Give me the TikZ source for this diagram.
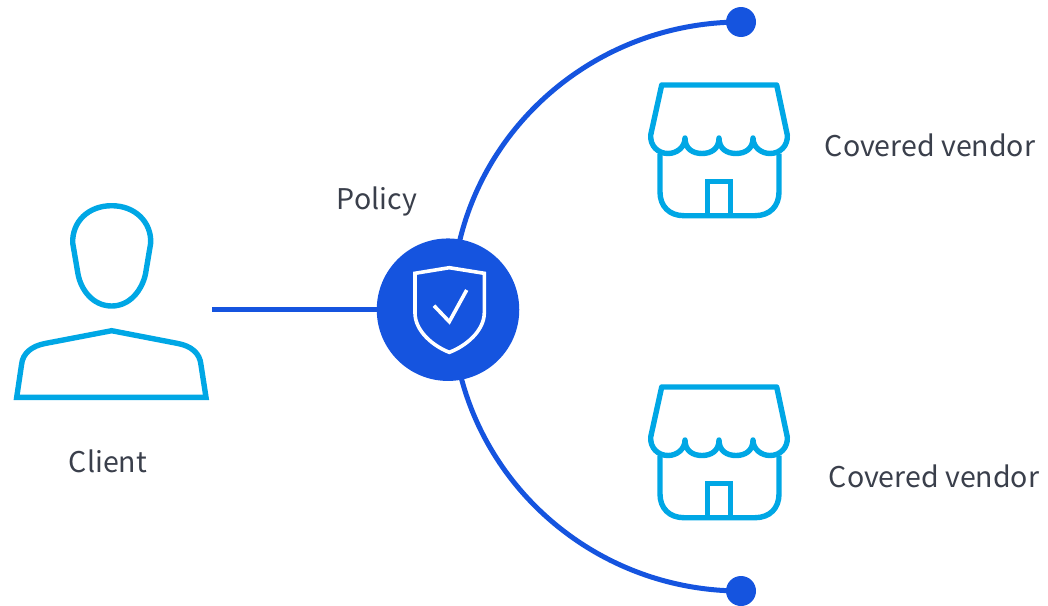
\documentclass[tikz,border=0pt]{standalone}
\usepackage{fontspec}
\setmainfont{Noto Sans CJK SC}
\usetikzlibrary{backgrounds}
\definecolor{hubblue}{HTML}{1554DF}
\definecolor{iconblue}{HTML}{00A7E5}
\definecolor{labelgrey}{HTML}{3A3F4B}
\tikzset{
  x=1pt,y=-1pt,
  iconline/.style={draw=iconblue,line width=5.4pt,line join=round},
  shieldline/.style={draw=white,line width=3.6pt,line join=miter},
  hubline/.style={draw=hubblue,line width=5pt},
  hub/.style={circle,fill=hubblue,inner sep=0pt,minimum size=142.5pt},
  enddot/.style={circle,fill=hubblue,inner sep=0pt,minimum size=30pt},
  lbl/.style={text=labelgrey,font=\fontsize{28.5}{34}\selectfont,inner sep=0pt},
  pics/shop/.style={code={
    \draw[iconline] (661.7,85) -- (776.7,85) -- (787.3,135)
      .. controls (788,146) and (780,153.5) .. (770,153.5)
      .. controls (761,153.5) and (753,147) .. (753,138)
      .. controls (753,149) and (745,153.5) .. (736,153.5)
      .. controls (727,153.5) and (719,149) .. (719,138)
      .. controls (719,149) and (711,153.5) .. (702,153.5)
      .. controls (693,153.5) and (685,149) .. (685,138)
      .. controls (685,147) and (677,153.5) .. (668,153.5)
      .. controls (658,153.5) and (650,146) .. (650.7,135) -- cycle;
    \draw[iconline] (660,153.5) -- (660,192)
      .. controls (660,206) and (669,215.7) .. (684,215.7)
      -- (755,215.7)
      .. controls (770,215.7) and (779,206) .. (779,192) -- (779,153.5);
    \draw[iconline,line join=miter] (707.3,215.7) -- (707.3,181.7) -- (730.7,181.7) -- (730.7,215.7);
  }}
}
\begin{document}
\begin{tikzpicture}
\useasboundingbox (0,0) rectangle (1048,605);
% hub and end points
\node[hub] (policy) at (448,309.7) {};
\node[enddot] (top) at (741,22) {};
\node[enddot] (bottom) at (741,591) {};
\coordinate (clientend) at (212,309.7);
\coordinate (arctop) at (452,306);
\coordinate (arcbot) at (452,306);
\begin{scope}[on background layer]
  \draw[hubline] (top.center) .. controls (582,22) and (452,149) .. (arctop);
  \draw[hubline] (bottom.center) .. controls (582,591) and (452,464) .. (arcbot);
  \draw[hubline] (clientend) -- (policy.center);
\end{scope}
% shield
\draw[shieldline] (449.3,267.7) -- (484.3,273.3) -- (484.3,313)
  .. controls (484,331) and (466,346) .. (449.3,352.3)
  .. controls (433,346) and (415,331) .. (415,313) -- (415,273.3) -- cycle;
\draw[shieldline] (434,305.7) -- (449.3,321.7) -- (466.7,290);
% person
\draw[iconline] (111.7,205.7)
  .. controls (88,205.7) and (72,222) .. (72.7,243)
  -- (78,274)
  .. controls (81,290) and (93,306) .. (111.7,306)
  .. controls (130,306) and (142,290) .. (145.5,274)
  -- (150.7,243)
  .. controls (151.5,222) and (135,205.7) .. (111.7,205.7) -- cycle;
\draw[iconline,line join=miter] (111.7,330.7) -- (178,343.5)
  .. controls (191,346) and (200,353) .. (201,365)
  -- (206,397.3) -- (16.7,397.3) -- (21.5,365)
  .. controls (22.5,353) and (32,346) .. (45,343.5) -- cycle;
% shops
\pic {shop};
\pic[yshift=-302pt] {shop};
% labels
\node[lbl] (lpolicy) at (377,201) {Policy};
\node[lbl] (lclient) at (108,461) {Client};
\node[lbl] (lv1) at (930,145) {Covered vendor};
\node[lbl] (lv2) at (934,476) {Covered vendor};
\end{tikzpicture}
\end{document}
